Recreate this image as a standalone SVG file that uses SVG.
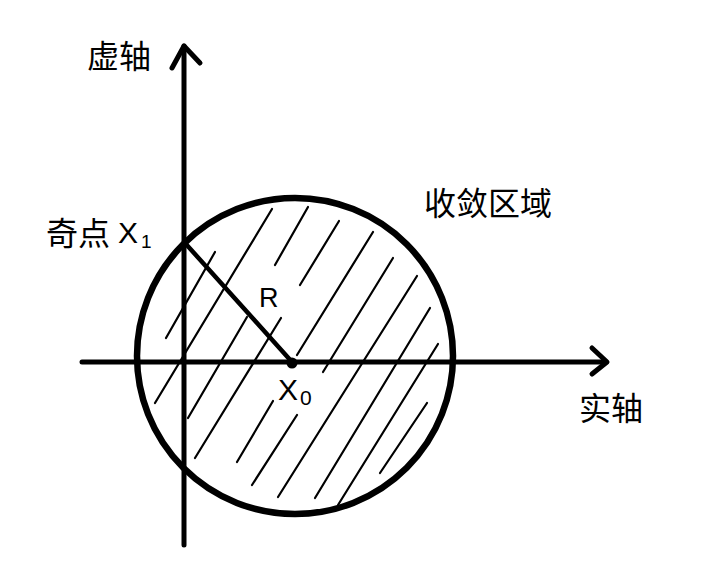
<svg xmlns="http://www.w3.org/2000/svg" width="720" height="583" viewBox="0 0 720 583">
<style>
.axis{stroke:#000;stroke-width:5;fill:none;stroke-linecap:round;stroke-linejoin:round}
.hatch{stroke:#000;stroke-width:2.2;stroke-linecap:round}
.t{font-family:"Liberation Sans","Noto Sans CJK SC",sans-serif;fill:#000}
</style>
<rect width="720" height="583" fill="#fff"/>
<g id="hatching">
<line class="hatch" x1="166" y1="338" x2="215" y2="252"/>
<line class="hatch" x1="155" y1="403" x2="272" y2="209"/>
<line class="hatch" x1="188" y1="418" x2="247" y2="317"/>
<line class="hatch" x1="195" y1="458" x2="281" y2="318"/>
<line class="hatch" x1="275" y1="265" x2="308" y2="207"/>
<line class="hatch" x1="300" y1="285" x2="339" y2="221"/>
<line class="hatch" x1="297" y1="355" x2="373" y2="232"/>
<line class="hatch" x1="323" y1="372" x2="393" y2="258"/>
<line class="hatch" x1="237" y1="462" x2="273" y2="401"/>
<line class="hatch" x1="252" y1="485" x2="297" y2="415"/>
<line class="hatch" x1="278" y1="497" x2="417" y2="276"/>
<line class="hatch" x1="315" y1="498" x2="430" y2="308"/>
<line class="hatch" x1="338" y1="505" x2="438" y2="344"/>
<line class="hatch" x1="380" y1="473" x2="427" y2="403"/>
</g>
<g id="region">
<circle cx="295" cy="356" r="158" fill="none" stroke="#000" stroke-width="6.5"/>
</g>
<g id="connectors">
<line class="axis" x1="184" y1="46" x2="184" y2="545"/>
<polyline class="axis" points="172,68 184,46 200,63"/>
<line class="axis" x1="82" y1="362" x2="606" y2="362"/>
<polyline class="axis" points="592,348 607,362 592,374"/>
<line x1="185" y1="243" x2="292" y2="362" stroke="#000" stroke-width="4.5" stroke-linecap="round"/>
</g>
<g id="x0">
<circle cx="292" cy="363" r="5.5" fill="#000"/>
<text class="t" x="278" y="400" font-size="30">X</text>
<text class="t" x="300" y="405" font-size="21">0</text>
</g>
<g id="x1">
<text class="t" x="46" y="245" font-size="32">奇点</text>
<text class="t" x="118" y="243" font-size="30">X</text>
<text class="t" x="141" y="248" font-size="19">1</text>
</g>
<g id="R"><text class="t" x="259" y="307" font-size="27">R</text></g>
<g id="imag"><text class="t" x="87" y="68" font-size="32">虚轴</text></g>
<g id="real"><text class="t" x="579" y="420" font-size="32">实轴</text></g>
<g id="conv"><text class="t" x="424" y="215" font-size="32">收敛区域</text></g>
</svg>
